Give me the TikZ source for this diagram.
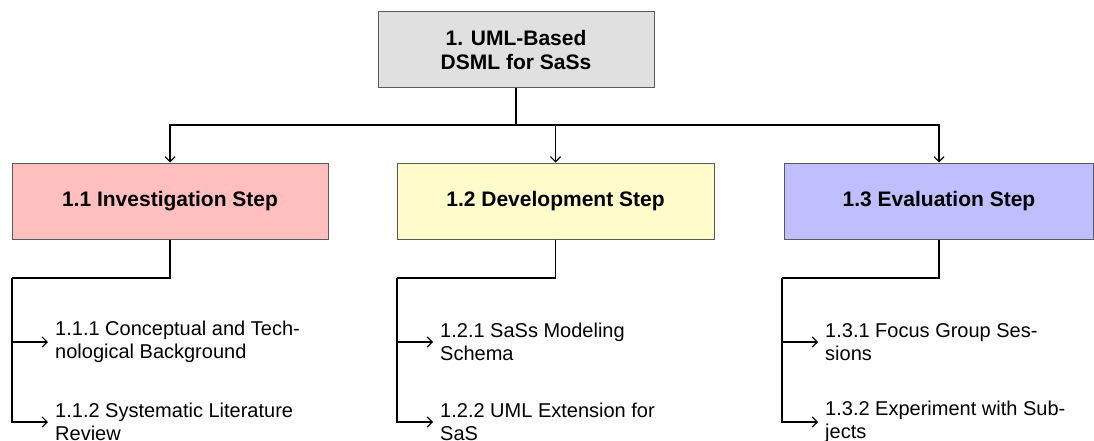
\documentclass[tikz,border=0pt]{standalone}
\usepackage{fontspec}
\setmainfont{Liberation Sans}
\usetikzlibrary{arrows.meta}
\definecolor{rootfill}{RGB}{224,224,224}
\definecolor{invfill}{RGB}{255,191,191}
\definecolor{devfill}{RGB}{255,251,202}
\definecolor{evafill}{RGB}{191,191,255}
\definecolor{boxline}{RGB}{90,90,90}
\tikzset{
  stepbox/.style={draw=boxline, line width=1pt, minimum height=76pt,
    align=center, inner sep=0pt,
    font=\fontsize{21}{24}\selectfont\bfseries},
  itemtext/.style={anchor=west, align=left, inner xsep=7pt, inner ysep=0pt,
    font=\fontsize{20}{23}\selectfont},
  link/.style={line width=1.6pt, black},
  tip/.style={-{Straight Barb[length=5pt,width=10pt,line width=1.2pt]}}
}
\begin{document}
\begin{tikzpicture}[x=1pt,y=-1pt]
\useasboundingbox (0,0) rectangle (1094,441);

% top of the hierarchy
\node[stepbox, fill=rootfill, minimum width=276pt] (root) at (516,49.5)
  {1. UML-Based\\DSML for SaSs};

% the three steps
\node[stepbox, fill=invfill, minimum width=316pt] (b1) at (170,201)
  {1.1 Investigation Step};
\node[stepbox, fill=devfill, minimum width=317pt] (b2) at (555.5,201)
  {1.2 Development Step};
\node[stepbox, fill=evafill, minimum width=309pt] (b3) at (939,201)
  {1.3 Evaluation Step};

% bus from the root to the steps
\coordinate (bus) at (516,125);
\draw[link] (root.south) -- (bus);
\draw[link, tip] (bus) -| (b1.north);
\draw[link, tip] (bus) -| (b2.north);
\draw[link, tip] (bus) -| (b3.north);

% sub-steps
\node[itemtext] (i11) at (48,342) {1.1.1 Conceptual and Tech-\\nological Background};
\node[itemtext] (i12) at (48,422) {1.1.2 Systematic Literature\\Review};
\node[itemtext] (i21) at (433,342) {1.2.1 SaSs Modeling\\Schema};
\node[itemtext] (i22) at (433,422) {1.2.2 UML Extension for\\SaS};
\node[itemtext] (i31) at (818,342) {1.3.1 Focus Group Ses-\\sions};
\node[itemtext] (i32) at (818,422) {1.3.2 Experiment with Sub-\\jects};

% branch lines from each step to its sub-steps
\coordinate (k1) at (12,278);
\coordinate (k2) at (397,278);
\coordinate (k3) at (782,278);

\draw[link] (b1.south) |- (k1);
\draw[link, tip] (k1) |- (i12.west);
\draw[link, tip] (k1 |- i11.west) -- (i11.west);

\draw[link] (b2.south) |- (k2);
\draw[link, tip] (k2) |- (i22.west);
\draw[link, tip] (k2 |- i21.west) -- (i21.west);

\draw[link] (b3.south) |- (k3);
\draw[link, tip] (k3) |- (i32.west);
\draw[link, tip] (k3 |- i31.west) -- (i31.west);
\end{tikzpicture}
\end{document}
